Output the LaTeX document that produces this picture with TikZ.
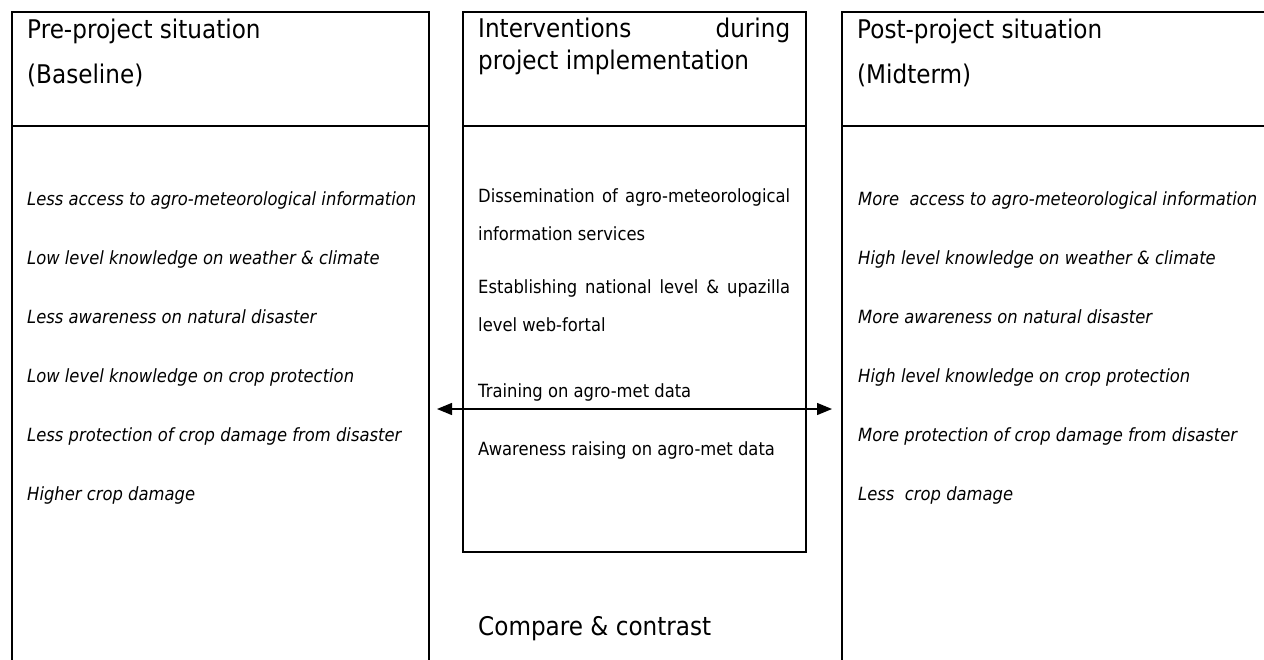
\documentclass[tikz,border=0pt]{standalone}
\usepackage{fontspec}
\setmainfont{DejaVu Sans}[FakeStretch=0.9]
\usetikzlibrary{arrows.meta,positioning}

\tikzset{
  colbox/.style={draw, line width=1.9pt},
  headtxt/.style={anchor=base west, inner sep=0pt, font=\fontsize{25.7}{32}\selectfont},
  itemtxt/.style={anchor=base west, inner sep=0pt, font=\fontsize{18.2}{38}\selectfont\itshape},
  midtxt/.style={anchor=base west, inner sep=0pt, font=\fontsize{18.2}{38}\selectfont},
  fullline/.style={text width=312pt, align=left},
}

\begin{document}
\begin{tikzpicture}[>={Triangle[length=15pt,width=12pt]}, x=1pt, y=-1pt]
  \useasboundingbox (0,0) rectangle (1264,659);
  \clip (0,0) rectangle (1264,659);

  % column frames
  \draw[colbox] (12,690) -- (12,12) -- (429,12) -- (429,690);
  \draw[colbox] (12,126) -- (429,126);
  \draw[colbox] (463,12) rectangle (806,552);
  \draw[colbox] (463,126) -- (806,126);
  \draw[colbox] (1300,12) -- (842,12) -- (842,690);
  \draw[colbox] (842,126) -- (1300,126);

  % headings
  \node[headtxt] (preA) at (27,38) {Pre-project situation};
  \node[headtxt] (preB) at (27,83) {(Baseline)};
  \node[headtxt, fullline] (intA) at (478,37) {Interventions\hfill during};
  \node[headtxt] (intB) at (478,69) {project implementation};
  \node[headtxt] (postA) at (857,38) {Post-project situation};
  \node[headtxt] (postB) at (857,83) {(Midterm)};

  % baseline situation
  \foreach \txt [count=\k] in {Less access to agro-meteorological information,
      Low level knowledge on weather \& climate,
      Less awareness on natural disaster,
      Low level knowledge on crop protection,
      Less protection of crop damage from disaster,
      Higher crop damage}
    \node[itemtxt] (pre\k) at (27,{146+59*\k}) {\txt};

  % midterm situation
  \foreach \txt [count=\k] in {More~ access to agro-meteorological information,
      High level knowledge on weather \& climate,
      More awareness on natural disaster,
      High level knowledge on crop protection,
      More protection of crop damage from disaster,
      Less~ crop damage}
    \node[itemtxt] (post\k) at (858,{146+59*\k}) {\txt};

  % interventions
  \node[midtxt, fullline] (int1) at (478,202) {Dissemination\hfill of\hfill agro-meteorological};
  \node[midtxt] (int1b) at (478,240) {information services};
  \node[midtxt, fullline] (int2) at (478,293) {Establishing\hfill national\hfill level\hfill \&\hfill upazilla};
  \node[midtxt] (int2b) at (478,331) {level web-fortal};
  \node[midtxt] (int3) at (478,397) {Training on agro-met data};
  \node[midtxt] (int4) at (478,455) {Awareness raising on agro-met data};

  % compare arrow
  \coordinate (arrL) at (437,409);
  \coordinate (arrR) at (832,409);
  \draw[<->, line width=1.3pt] (arrL) -- (arrR);

  \node[headtxt] (cmp) at (478,635) {Compare \& contrast};
\end{tikzpicture}
\end{document}
